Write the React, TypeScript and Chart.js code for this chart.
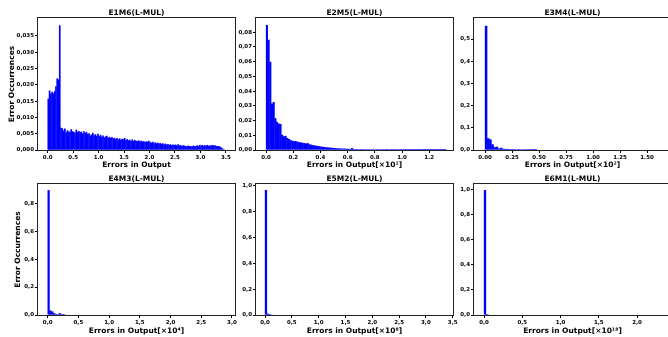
import React, { useEffect, useRef } from "react";
import { Chart, registerables } from "chart.js";
Chart.register(...registerables);

// ---------- data ----------
const panelTitles = ["E1M6(L-MUL)", "E2M5(L-MUL)", "E3M4(L-MUL)", "E4M3(L-MUL)", "E5M2(L-MUL)", "E6M1(L-MUL)"];
const xAxisTitles = [
  "Errors in Output",
  "Errors in Output[×10¹]",
  "Errors in Output[×10²]",
  "Errors in Output[×10⁴]",
  "Errors in Output[×10⁸]",
  "Errors in Output[×10¹⁸]",
];
const yAxisTitle = "Error Occurrences";

const binWidths = [0.025, 0.0125, 0.02, 0.03, 0.035, 0.025];

const e1m6Values = [
  0.0157, 0.0182, 0.0173, 0.0178, 0.0173, 0.018, 0.0195, 0.0219, 0.0216, 0.0382,
  0.0068, 0.0066, 0.0059, 0.0065, 0.0054, 0.006, 0.0056, 0.0055, 0.0063, 0.0057,
  0.0055, 0.0053, 0.0062, 0.0055, 0.0058, 0.0054, 0.0056, 0.005, 0.0057, 0.0052,
  0.0055, 0.0049, 0.0051, 0.0044, 0.0047, 0.0052, 0.0045, 0.0048, 0.0043, 0.0049,
  0.0042, 0.0046, 0.004, 0.0044, 0.0038, 0.0041, 0.0043, 0.0037, 0.004, 0.0036,
  0.0039, 0.0035, 0.0037, 0.0033, 0.0036, 0.0032, 0.0035, 0.0031, 0.0034, 0.0033,
  0.0036, 0.003, 0.0033, 0.0029, 0.0031, 0.0028, 0.0032, 0.0027, 0.003, 0.0028,
  0.0027, 0.0029, 0.0026, 0.0028, 0.0025, 0.0027, 0.0024, 0.0026, 0.0025, 0.0028,
  0.0024, 0.0022, 0.0025, 0.0021, 0.0023, 0.002, 0.0022, 0.0019, 0.0021, 0.0018,
  0.002, 0.0017, 0.0019, 0.0016, 0.0018, 0.0015, 0.0017, 0.0014, 0.0016, 0.0015,
  0.0016, 0.0014, 0.0017, 0.0013, 0.0015, 0.0012, 0.0014, 0.0013, 0.0011, 0.0012,
  0.0013, 0.0011, 0.0012, 0.001, 0.0013, 0.0011, 0.0012, 0.0014, 0.0011, 0.0015,
  0.0013, 0.0015, 0.0012, 0.0014, 0.0013, 0.0015, 0.0012, 0.0014, 0.0013, 0.0015,
  0.0013, 0.0014, 0.0012, 0.0011, 0.0012, 0.0009, 0.0007, 0.0004, 0, 0,
];
const e2m5Values = [
  0.0848, 0.0748, 0.0598, 0.0315, 0.0325, 0.0215, 0.019, 0.0178, 0.0176, 0.0102,
  0.0092, 0.0095, 0.008, 0.0074, 0.0066, 0.0062, 0.0058, 0.006, 0.0055, 0.0052,
  0.005, 0.0048, 0.0046, 0.0043, 0.0046, 0.0038, 0.0035, 0.0032, 0.003, 0.0028,
  0.0026, 0.0024, 0.0022, 0.002, 0.0019, 0.0017, 0.0016, 0.0015, 0.0014, 0.0013,
  0.0012, 0.0011, 0.001, 0.0009, 0.0009, 0.0008, 0.0008, 0.0007, 0.0007, 0.0006,
  0.0012, 0.0006, 0.0005, 0.0005, 0.0004, 0.0005, 0.0004, 0.0004, 0.0003, 0.0004,
  0.0003, 0.0003, 0.0004, 0.0003, 0.0003, 0.0002, 0.0003, 0.0003, 0.0002, 0.0003,
  0.0002, 0.0002, 0.0003, 0.0002, 0.0002, 0.0002, 0.0002, 0.0003, 0.0002, 0.0002,
  0.0002, 0.0002, 0.0001, 0.0002, 0.0002, 0.0001, 0.0002, 0.0001, 0.0002, 0.0001,
  0.0001, 0.0002, 0.0001, 0.0001, 0.0002, 0.0001, 0.0001, 0.0001, 0.0002, 0.0001,
  0.0001, 0.0001, 0.0001, 0.0002, 0.0001, 0.0001,
];
const e3m4Values = [
  0.559, 0.052, 0.047, 0.025, 0.012, 0.014, 0.006, 0.009, 0.005, 0.004,
  0.004, 0.003, 0.0035, 0.003, 0.0025, 0.003, 0.002, 0.0025, 0.002, 0.0015,
  0.002, 0.001, 0.001, 0.0005,
];
const e4m3Values = [0.893, 0.031, 0.024, 0.012, 0.006, 0.004, 0.012, 0.002, 0.001, 0];
const e5m2Values = [0.967, 0.009, 0.002, 0];
const e6m1Values = [0.995, 0.003, 0];

const xMins = [-0.19, -0.074, -0.102, -0.158, -0.168, -0.131];
const xMaxs = [3.68, 1.375, 1.722, 3.05, 3.505, 2.444];
const yMaxs = [0.0405, 0.0897, 0.595, 0.938, 1.015, 1.045];

const xTicks1 = [0, 0.5, 1, 1.5, 2, 2.5, 3, 3.5];
const xTickLabels1 = ["0.0", "0.5", "1.0", "1.5", "2.0", "2.5", "3.0", "3.5"];
const xTicks2 = [0, 0.2, 0.4, 0.6, 0.8, 1.0, 1.2];
const xTickLabels2 = ["0.0", "0.2", "0.4", "0.6", "0.8", "1.0", "1.2"];
const xTicks3 = [0, 0.25, 0.5, 0.75, 1.0, 1.25, 1.5];
const xTickLabels3 = ["0.00", "0.25", "0.50", "0.75", "1.00", "1.25", "1.50"];
const xTicks4 = [0, 0.5, 1, 1.5, 2, 2.5, 3];
const xTickLabels4 = ["0,0", "0,5", "1,0", "1,5", "2,0", "2,5", "3,0"];
const xTicks5 = [0, 0.5, 1, 1.5, 2, 2.5, 3, 3.5];
const xTickLabels5 = ["0,0", "0,5", "1,0", "1,5", "2,0", "2,5", "3,0", "3,5"];
const xTicks6 = [0, 0.5, 1, 1.5, 2];
const xTickLabels6 = ["0,0", "0,5", "1,0", "1,5", "2,0"];

const yTicks1 = [0, 0.005, 0.01, 0.015, 0.02, 0.025, 0.03, 0.035];
const yTickLabels1 = ["0,000", "0,005", "0,010", "0,015", "0,020", "0,025", "0,030", "0,035"];
const yTicks2 = [0, 0.01, 0.02, 0.03, 0.04, 0.05, 0.06, 0.07, 0.08];
const yTickLabels2 = ["0,00", "0,01", "0,02", "0,03", "0,04", "0,05", "0,06", "0,07", "0,08"];
const yTicks3 = [0, 0.1, 0.2, 0.3, 0.4, 0.5];
const yTickLabels3 = ["0,0", "0,1", "0,2", "0,3", "0,4", "0,5"];
const yTicks4 = [0, 0.2, 0.4, 0.6, 0.8];
const yTickLabels4 = ["0,0", "0,2", "0,4", "0,6", "0,8"];
const yTicks5 = [0, 0.2, 0.4, 0.6, 0.8, 1.0];
const yTickLabels5 = ["0,0", "0,2", "0,4", "0,6", "0,8", "1,0"];
const yTicks6 = [0, 0.2, 0.4, 0.6, 0.8, 1.0];
const yTickLabels6 = ["0,0", "0,2", "0,4", "0,6", "0,8", "1,0"];

const seriesList = [e1m6Values, e2m5Values, e3m4Values, e4m3Values, e5m2Values, e6m1Values];
const xTicksList = [xTicks1, xTicks2, xTicks3, xTicks4, xTicks5, xTicks6];
const xLabelsList = [xTickLabels1, xTickLabels2, xTickLabels3, xTickLabels4, xTickLabels5, xTickLabels6];
const yTicksList = [yTicks1, yTicks2, yTicks3, yTicks4, yTicks5, yTicks6];
const yLabelsList = [yTickLabels1, yTickLabels2, yTickLabels3, yTickLabels4, yTickLabels5, yTickLabels6];

// ---------- layout ----------
const colX0 = [0, 236, 454];
const colYW = [38, 20, 20];
const colRP = [4, 8, 8];
const plotW = 197;
const rowY0 = [0, 166];
const rowXH = [20, 21];
const canvasH = 170;
const yTitlePad = [7.5, 0, 0, 13.5, 0, 0];

const FONT = "'DejaVu Sans', sans-serif";

const framePlugin = {
  id: "frame",
  afterDraw(chart: any) {
    const { ctx, chartArea: a } = chart;
    ctx.save();
    ctx.strokeStyle = "#222";
    ctx.lineWidth = 1;
    ctx.strokeRect(Math.round(a.left) - 0.5, Math.round(a.top) - 0.5, Math.round(a.right - a.left) + 1, Math.round(a.bottom - a.top) + 1);
    ctx.restore();
  },
};

function Panel({ idx }: { idx: number }) {
  const ref = useRef<HTMLCanvasElement | null>(null);
  const col = idx % 3;
  const row = Math.floor(idx / 3);
  const yw = colYW[col];
  const rp = colRP[col];
  const width = yw + plotW + rp;
  const xh = rowXH[row];

  useEffect(() => {
    if (!ref.current) return;
    const w = binWidths[idx];
    const values = seriesList[idx];
    const xTicks = xTicksList[idx];
    const xLabels = xLabelsList[idx];
    const yTicks = yTicksList[idx];
    const yLabels = yLabelsList[idx];
    const tickFont = { family: FONT, size: 5.5, weight: "bold" as const };
    const chart = new Chart(ref.current, {
      type: "bar",
      data: {
        datasets: [
          {
            data: values.map((v, i) => ({ x: (i + 0.5) * w, y: v })),
            backgroundColor: "#0000ff",
            borderWidth: 0,
            inflateAmount: 0.2,
            barPercentage: 1,
            categoryPercentage: 1,
          } as any,
        ],
      },
      options: {
        animation: false,
        responsive: false,
        maintainAspectRatio: false,
        devicePixelRatio: 1,
        layout: { padding: { left: 0, right: rp, top: 0, bottom: 0 } },
        plugins: {
          legend: { display: false },
          tooltip: { enabled: false },
          title: {
            display: true,
            text: panelTitles[idx],
            color: "#000",
            font: { family: FONT, size: 7.5, weight: "bold" },
            padding: { top: 9, bottom: 0 },
            fullSize: false,
          },
        },
        scales: {
          x: {
            type: "linear",
            min: xMins[idx],
            max: xMaxs[idx],
            offset: false,
            afterBuildTicks: (s: any) => {
              s.ticks = xTicks.map((v) => ({ value: v }));
            },
            afterFit: (s: any) => {
              s.height = xh;
            },
            ticks: {
              callback: (_v: any, i: number) => xLabels[i],
              font: tickFont,
              color: "#000",
              padding: 1.5,
              autoSkip: false,
              maxRotation: 0,
            },
            grid: { display: true, drawOnChartArea: false, drawTicks: true, tickLength: 3, tickColor: "#000", offset: false },
            border: { display: false },
            title: {
              display: true,
              text: xAxisTitles[idx],
              color: "#000",
              font: { family: FONT, size: 7.5, weight: "bold" },
              padding: { top: 0, bottom: 0 },
            },
          },
          y: {
            type: "linear",
            min: 0,
            max: yMaxs[idx],
            afterBuildTicks: (s: any) => {
              s.ticks = yTicks.map((v) => ({ value: v }));
            },
            afterFit: (s: any) => {
              s.width = yw;
            },
            ticks: {
              callback: (_v: any, i: number) => yLabels[i],
              font: tickFont,
              color: "#000",
              padding: 1,
              autoSkip: false,
            },
            grid: { display: true, drawOnChartArea: false, drawTicks: true, tickLength: 3, tickColor: "#000" },
            border: { display: false },
            title: {
              display: col === 0,
              text: yAxisTitle,
              color: "#000",
              font: { family: FONT, size: 7.5, weight: "bold" },
              padding: { top: yTitlePad[idx], bottom: 0 },
            },
          },
        },
      } as any,
      plugins: [framePlugin],
    });
    return () => chart.destroy();
  }, [idx]);

  return (
    <canvas
      ref={ref}
      width={width}
      height={canvasH}
      style={{ position: "absolute", left: colX0[col], top: rowY0[row], width, height: canvasH }}
    />
  );
}

export default function App() {
  return (
    <div style={{ position: "fixed", left: 0, top: 0, width: 668, height: 337, overflow: "hidden", background: "#fff" }}>
      {[0, 1, 2, 3, 4, 5].map((i) => (
        <Panel key={i} idx={i} />
      ))}
    </div>
  );
}
